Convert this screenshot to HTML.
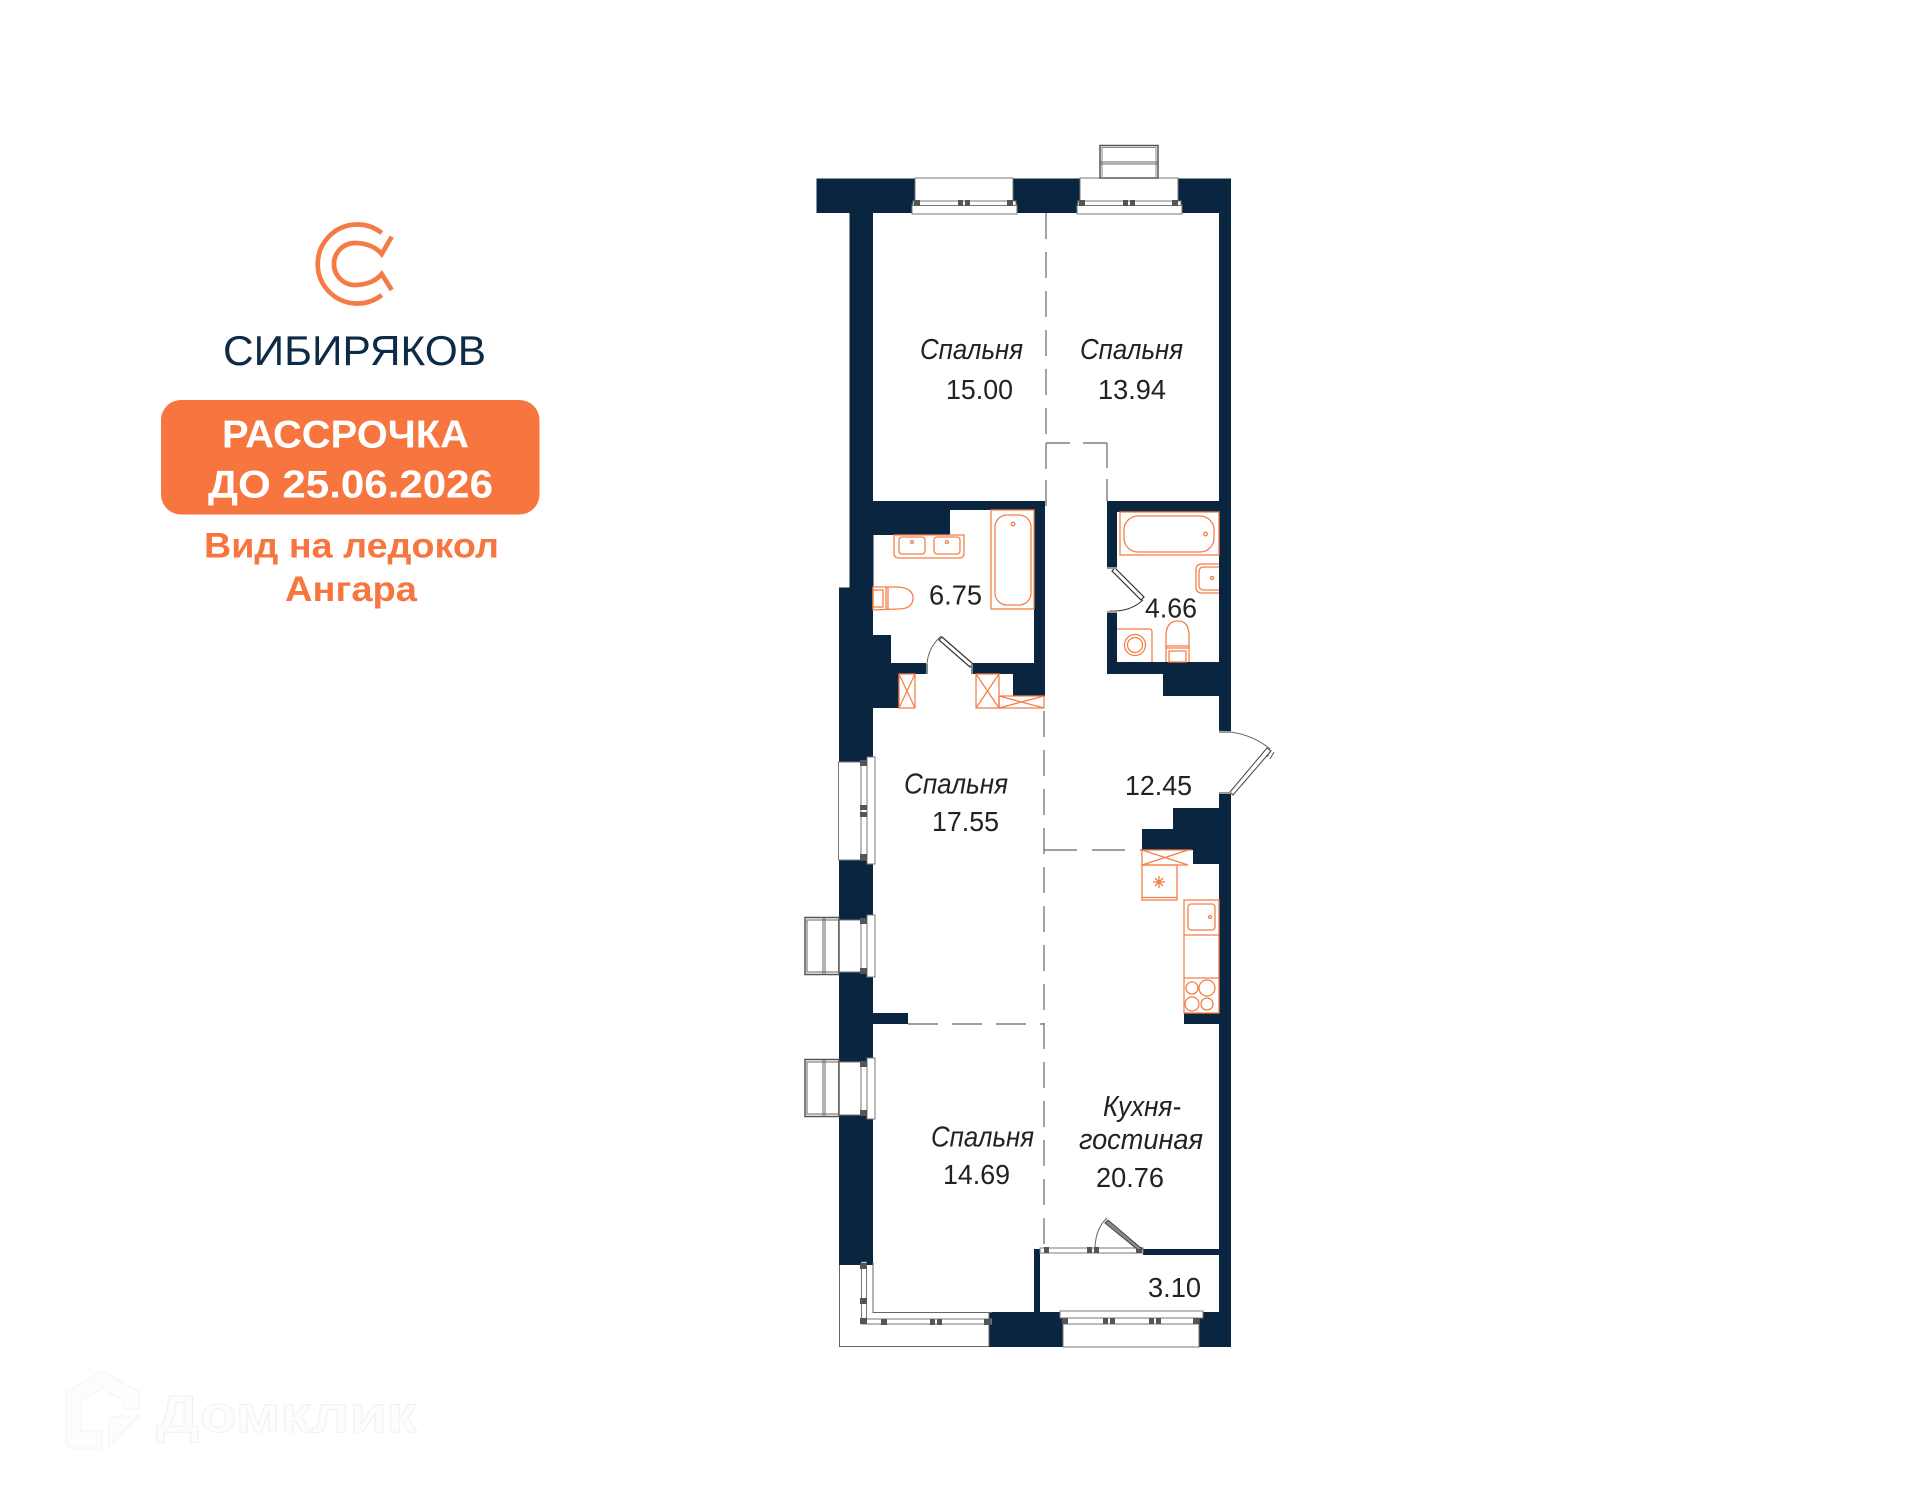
<!DOCTYPE html>
<html lang="ru">
<head>
<meta charset="utf-8">
<title>Планировка</title>
<style>
html,body{margin:0;padding:0;background:#fff;width:1920px;height:1500px;overflow:hidden}
svg{display:block}
text{font-family:"Liberation Sans","DejaVu Sans",sans-serif}
.n{fill:#0a2540}
.o{fill:none;stroke:#f57f49;stroke-width:1.3}
.g{fill:none;stroke:#666;stroke-width:1}
.w{fill:#fff;stroke:#777;stroke-width:1}
.d{stroke:#666;stroke-width:1.2;stroke-dasharray:26 13;fill:none}
.l{font-size:28px;fill:#222}
.i{font-size:29px;font-style:italic;fill:#222}
.b{fill:#555}
</style>
</head>
<body>
<svg width="1920" height="1500" viewBox="0 0 1920 1500" xmlns="http://www.w3.org/2000/svg">
<rect width="1920" height="1500" fill="#fff"/>

<!-- watermark -->
<path d="M66 1392 L102 1371 L139 1392 L139 1409 L124 1409 L124 1401 L102 1388 L81 1401 L81 1431 L102 1431 L102 1448 L74 1448 Q66 1448 66 1440 Z" fill="#fdfdfd" stroke="#f3f3f3" stroke-width="1"/>
<path d="M109 1447 L109 1425 Q109 1416 118 1416 L138 1416 Z" fill="#fdfdfd" stroke="#f3f3f3" stroke-width="1"/>
<text x="156" y="1432" font-size="52" font-weight="700" fill="#fdfdfd" stroke="#f1f1f1" stroke-width="1" textLength="261" lengthAdjust="spacingAndGlyphs">Домклик</text>

<!-- logo -->
<g fill="none" stroke="#f47b45" stroke-width="4.7">
<path d="M381.700 233 A39.500 39.500 0 1 0 381.700 295"/>
<path d="M391.700 236.700 L381.700 254 C376 247 366 243 355 243 A21 21 0 0 0 355 285 C366 285 376 281 381.700 274 L391.700 290"/>
</g>
<text x="223" y="365" font-size="42" fill="#0d2a47" textLength="263" lengthAdjust="spacingAndGlyphs">СИБИРЯКОВ</text>
<rect x="161" y="400" width="378.500" height="114.500" rx="20" fill="#f7753f"/>
<text x="222" y="447.500" font-size="39" font-weight="700" fill="#fff" textLength="247" lengthAdjust="spacingAndGlyphs">РАССРОЧКА</text>
<text x="208" y="497.500" font-size="39" font-weight="700" fill="#fff" textLength="285" lengthAdjust="spacingAndGlyphs">ДО 25.06.2026</text>
<text x="204" y="557.500" font-size="35" font-weight="700" fill="#f7753f" textLength="295" lengthAdjust="spacingAndGlyphs">Вид на ледокол</text>
<text x="285" y="601" font-size="35" font-weight="700" fill="#f7753f" textLength="132" lengthAdjust="spacingAndGlyphs">Ангара</text>

<!-- walls -->
<g class="n">
<rect x="816.500" y="178.500" width="414.500" height="34.500"/>
<rect x="849.500" y="213" width="23.500" height="320"/>
<rect x="839" y="587.500" width="34" height="677.500"/>
<rect x="1219" y="213" width="12" height="518"/>
<rect x="1219" y="793" width="12" height="554"/>
<rect x="873" y="501" width="172" height="9"/>
<rect x="873" y="510" width="77" height="25"/>
<rect x="849.500" y="533" width="24" height="60"/>
<rect x="1034" y="510" width="11" height="186"/>
<rect x="891" y="663" width="35" height="11"/>
<rect x="973" y="663" width="72" height="11"/>
<rect x="1013" y="674" width="32" height="22"/>
<rect x="873" y="635" width="18" height="40"/>
<rect x="873" y="663" width="26" height="45"/>
<rect x="1107" y="501" width="124" height="11"/>
<rect x="1107" y="512" width="10" height="55"/>
<rect x="1107" y="612" width="10" height="62"/>
<rect x="1107" y="662" width="112" height="12"/>
<rect x="1163" y="674" width="56" height="22"/>
<rect x="1173" y="808" width="46" height="21"/>
<rect x="1142" y="829" width="77" height="21"/>
<rect x="1193" y="850" width="26" height="14"/>
<rect x="873" y="1013" width="35" height="11"/>
<rect x="1184" y="1013" width="35" height="11"/>
<rect x="989" y="1312" width="74" height="35"/>
<rect x="1199" y="1312" width="32" height="35"/>
<rect x="1034" y="1249" width="6" height="63"/>
<rect x="1143" y="1249" width="76" height="6"/>
</g>

<!-- top windows -->
<g>
<rect x="915" y="178" width="98" height="23" class="w"/>
<rect x="912" y="205" width="105" height="9" class="w"/>
<rect x="913" y="201" width="103" height="4.500" class="w"/>
<rect x="914" y="200" width="6" height="6" class="b"/><rect x="958" y="200" width="5" height="6" class="b"/><rect x="965" y="200" width="5" height="6" class="b"/><rect x="1007" y="200" width="6" height="6" class="b"/>
<rect x="1080" y="178" width="98" height="23" class="w"/>
<rect x="1077" y="205" width="105" height="9" class="w"/>
<rect x="1078" y="201" width="103" height="4.500" class="w"/>
<rect x="1079" y="200" width="6" height="6" class="b"/><rect x="1123" y="200" width="5" height="6" class="b"/><rect x="1130" y="200" width="5" height="6" class="b"/><rect x="1172" y="200" width="6" height="6" class="b"/>
<rect x="1100" y="145.500" width="58" height="32.500" fill="none" stroke="#555" stroke-width="1.500"/>
<rect x="1102" y="147.500" width="54" height="30" fill="none" stroke="#888" stroke-width="1"/>
<path d="M1100 162H1158M1100 164H1158" class="g"/>
</g>

<!-- left windows -->
<g>
<rect x="838.500" y="762" width="34" height="98" class="w"/>
<rect x="867" y="757" width="8" height="107" class="w"/>
<rect x="861" y="762" width="6" height="98" class="w"/>
<rect x="860" y="760" width="7" height="6" class="b"/><rect x="860" y="805" width="7" height="5" class="b"/><rect x="860" y="812" width="7" height="5" class="b"/><rect x="860" y="854" width="7" height="6" class="b"/>

<rect x="838.500" y="920" width="34" height="52" class="w"/>
<rect x="867" y="915" width="8" height="62" class="w"/>
<rect x="861" y="920" width="6" height="52" class="w"/>
<rect x="860" y="918" width="7" height="6" class="b"/><rect x="860" y="968" width="7" height="6" class="b"/>
<rect x="805" y="917.500" width="34" height="57" fill="none" stroke="#555" stroke-width="1.500"/>
<rect x="807" y="920" width="32" height="52" class="g"/>
<path d="M823 918V975M825 918V975" class="g"/>

<rect x="838.500" y="1062" width="34" height="53" class="w"/>
<rect x="867" y="1058" width="8" height="61" class="w"/>
<rect x="861" y="1062" width="6" height="53" class="w"/>
<rect x="860" y="1061" width="7" height="6" class="b"/><rect x="860" y="1110" width="7" height="6" class="b"/>
<rect x="805" y="1059.500" width="34" height="57" fill="none" stroke="#555" stroke-width="1.500"/>
<rect x="807" y="1062" width="32" height="52" class="g"/>
<path d="M823 1060V1117M825 1060V1117" class="g"/>
</g>

<!-- corner window -->
<path d="M839.500 1265 V1346.500 H989 M989 1346V1312" fill="#fff" stroke="#666" stroke-width="1"/>
<path d="M873 1262V1312.500H992" class="g"/>
<rect x="861.500" y="1262" width="5" height="62" class="w"/>
<rect x="861.500" y="1319" width="130" height="5" class="w"/>
<rect x="860" y="1263" width="7" height="6" class="b"/><rect x="860" y="1298" width="7" height="6" class="b"/><rect x="860" y="1318" width="7" height="6" class="b"/>
<rect x="881" y="1319" width="6" height="6" class="b"/><rect x="930" y="1319" width="5" height="6" class="b"/><rect x="937" y="1319" width="5" height="6" class="b"/><rect x="984" y="1319" width="7" height="6" class="b"/>

<!-- bottom window -->
<rect x="1063" y="1322" width="136" height="25" class="w"/>
<rect x="1060" y="1311" width="143" height="7" class="w"/>
<rect x="1063" y="1318" width="136" height="6" class="w"/>
<rect x="1062" y="1318" width="6" height="6" class="b"/><rect x="1103" y="1318" width="5" height="6" class="b"/><rect x="1110" y="1318" width="5" height="6" class="b"/><rect x="1149" y="1318" width="5" height="6" class="b"/><rect x="1156" y="1318" width="5" height="6" class="b"/><rect x="1193" y="1318" width="6" height="6" class="b"/>

<!-- balcony door frame -->
<rect x="1040" y="1248" width="103" height="5" class="w"/>
<rect x="1044" y="1247" width="5" height="6" class="b"/><rect x="1087" y="1247" width="5" height="6" class="b"/><rect x="1094" y="1247" width="5" height="6" class="b"/><rect x="1136" y="1247" width="6" height="6" class="b"/>
<path d="M1142 1249 L1108 1220 L1105 1223 L1138 1250 Z" fill="#888" stroke="#444" stroke-width="1"/>
<path d="M1107 1218 Q1096 1228 1095 1247" class="g"/>

<!-- dashed partitions -->
<g class="d">
<path d="M1046 213V443"/>
<path d="M1046 443V506" stroke-dasharray="26 11"/>
<path d="M1046 443H1107" stroke-dasharray="24 13"/>
<path d="M1107 443V501" stroke-dasharray="25 11"/>
<path d="M1044 711V1249"/>
<path d="M1044 850H1142" stroke-dasharray="33 15"/>
<path d="M908 1024H1044" stroke-dasharray="30 14"/>
</g>

<!-- bath 1 -->
<g class="o">
<rect x="991" y="510" width="43" height="99"/>
<rect x="995" y="515" width="36" height="90" rx="12"/>
<circle cx="1013" cy="524" r="1.800"/>
<path d="M950 535H964V553Q964 558 959 558H899Q894 558 894 553V535H950"/>
<rect x="899" y="537" width="26" height="17" rx="3"/>
<rect x="934" y="537" width="26" height="17" rx="3"/>
<circle cx="912" cy="542" r="1.500"/><circle cx="947" cy="542" r="1.500"/>
<path d="M873 587H898Q913 588 913 598Q913 609 898 609L873 610Z"/>
<rect x="873" y="590" width="10" height="17"/>
<path d="M886 587V610M888 587V610"/>
<rect x="899" y="674" width="16" height="34"/>
<path d="M899 674L915 708M915 674L899 708"/>
<rect x="976" y="674" width="23" height="34"/>
<path d="M976 674L999 708M999 674L976 708"/>
<path d="M999 696V708H1044V696ZM999 696L1044 708M999 708L1044 696"/>
</g>
<path d="M973 664L942 637L939 640L970 667Z" fill="#fff" stroke="#333" stroke-width="1.200"/>
<path d="M941 636Q928 648 927 664" class="g"/>
<rect x="926" y="664" width="2" height="10" fill="#888"/><rect x="971" y="664" width="2" height="10" fill="#888"/>

<!-- bath 2 -->
<g class="o">
<rect x="1120" y="512" width="99" height="43"/>
<rect x="1124" y="516" width="90" height="36" rx="14"/>
<circle cx="1205.500" cy="534" r="1.800"/>
<path d="M1219 564H1202Q1196 564 1196 570V587Q1196 593 1202 593H1219"/>
<path d="M1219 567H1204Q1199 567 1199 572V585Q1199 590 1204 590H1219"/>
<circle cx="1212" cy="578" r="1.500"/>
<path d="M1117 629H1149Q1152 629 1152 632V662"/>
<circle cx="1135" cy="645" r="10.500"/><circle cx="1135" cy="645" r="7.500"/>
<path d="M1166 662V636Q1166 621 1178 621Q1189 621 1189 636V662"/>
<path d="M1166 646H1189M1166 648H1189"/>
<rect x="1169" y="651" width="17" height="11"/>
</g>
<path d="M1115 568L1144 597L1141 600L1112 571Z" fill="#fff" stroke="#333" stroke-width="1.200"/>
<path d="M1110 611Q1130 612 1143 600" stroke="#333" stroke-width="1" fill="none"/>
<rect x="1107" y="567" width="10" height="2" fill="#999"/><rect x="1107" y="611" width="10" height="2" fill="#999"/>

<!-- entry door -->
<path d="M1219 731Q1250 732 1270 749" class="g"/>
<path d="M1267 748L1230 792L1233 795L1271 751Z" fill="#fff" stroke="#444" stroke-width="1"/>
<path d="M1271 750L1267 757M1274 752L1270 759" stroke="#555" stroke-width="1"/>
<rect x="1219" y="731" width="12" height="2" fill="#999"/><rect x="1219" y="792" width="12" height="2" fill="#999"/>

<!-- kitchen -->
<g class="o">
<path d="M1192 850H1142V865H1188M1142 850L1188 865M1142 865L1188 850"/>
<rect x="1142" y="865" width="35" height="35"/>
<path d="M1142 897.500H1177"/>
<path d="M1153 882H1165M1159 876V888M1155 878L1163 886M1163 878L1155 886"/>
<rect x="1184" y="900" width="35" height="113"/>
<path d="M1184 935H1219M1184 978H1219"/>
<rect x="1188" y="904" width="27" height="26" rx="3"/>
<circle cx="1210" cy="917" r="1.500"/>
<circle cx="1192" cy="988" r="6"/><circle cx="1207" cy="988" r="8"/>
<circle cx="1192" cy="1004" r="7"/><circle cx="1207" cy="1004" r="6"/>
</g>

<!-- labels -->
<g>
<text class="i" x="920" y="359" textLength="103" lengthAdjust="spacingAndGlyphs">Спальня</text>
<text class="l" x="946" y="399" textLength="67" lengthAdjust="spacingAndGlyphs">15.00</text>
<text class="i" x="1080" y="359" textLength="103" lengthAdjust="spacingAndGlyphs">Спальня</text>
<text class="l" x="1098" y="399" textLength="68" lengthAdjust="spacingAndGlyphs">13.94</text>
<text class="l" x="929" y="608" dy="-3.500" textLength="53" lengthAdjust="spacingAndGlyphs">6.75</text>
<text class="l" x="1145" y="621" dy="-3.500" textLength="52" lengthAdjust="spacingAndGlyphs">4.66</text>
<text class="i" x="904" y="793.500" textLength="104" lengthAdjust="spacingAndGlyphs">Спальня</text>
<text class="l" x="932" y="831" textLength="67" lengthAdjust="spacingAndGlyphs">17.55</text>
<text class="l" x="1125" y="795" textLength="67" lengthAdjust="spacingAndGlyphs">12.45</text>
<text class="i" x="931" y="1146.500" textLength="103" lengthAdjust="spacingAndGlyphs">Спальня</text>
<text class="l" x="943" y="1184" textLength="67" lengthAdjust="spacingAndGlyphs">14.69</text>
<text class="i" x="1103" y="1116" textLength="78" lengthAdjust="spacingAndGlyphs">Кухня-</text>
<text class="i" x="1079" y="1149" textLength="124" lengthAdjust="spacingAndGlyphs">гостиная</text>
<text class="l" x="1096" y="1187" textLength="68" lengthAdjust="spacingAndGlyphs">20.76</text>
<text class="l" x="1148" y="1297" textLength="53" lengthAdjust="spacingAndGlyphs">3.10</text>
</g>
</svg>
</body>
</html>
